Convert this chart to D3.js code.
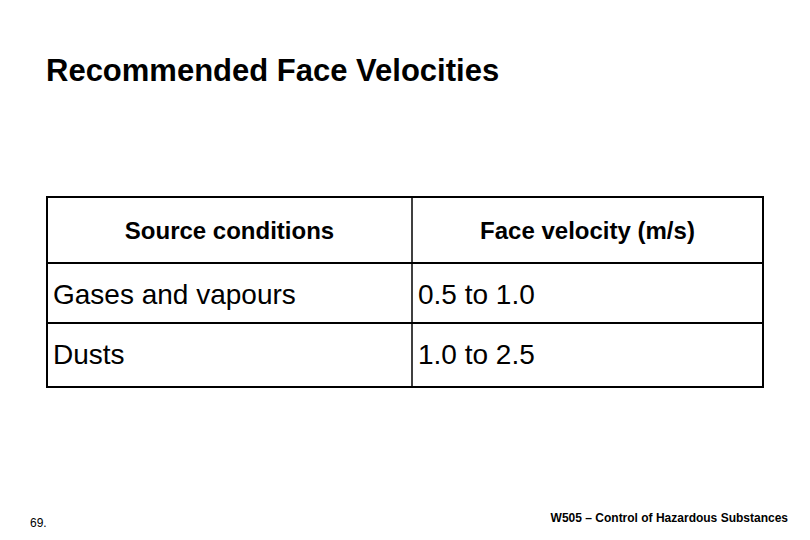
<!DOCTYPE html>
<html>
<head>
<meta charset="utf-8">
<script src="https://cdn.jsdelivr.net/npm/d3@7"></script>
<style>
  body { margin: 0; background: #fff; }
  text { font-family: "Liberation Sans", Arial, sans-serif; fill: #000; }
</style>
</head>
<body>
<svg id="slide" width="810" height="540"></svg>
<script>
const headers = ["Source conditions", "Face velocity (m/s)"];
const sources = ["Gases and vapours", "Dusts"];
const velocities = ["0.5 to 1.0", "1.0 to 2.5"];

const svg = d3.select("#slide");

svg.append("text")
    .attr("x", 46).attr("y", 81)
    .style("font-size", "31px")
    .style("font-weight", "bold")
    .text("Recommended Face Velocities");

// table geometry
const colX = d3.scaleOrdinal().domain([0, 1, 2]).range([47, 412, 763]);
const rowY = [197, 263, 323, 387];

const g = svg.append("g");

g.append("rect")
    .attr("x", colX(0)).attr("y", rowY[0])
    .attr("width", colX(2) - colX(0)).attr("height", rowY[3] - rowY[0])
    .attr("fill", "none").attr("stroke", "#000").attr("stroke-width", 2);

g.selectAll("line.row")
    .data(rowY.slice(1, 3))
    .enter().append("line")
    .attr("class", "row")
    .attr("x1", colX(0)).attr("x2", colX(2))
    .attr("y1", d => d).attr("y2", d => d)
    .attr("stroke", "#000").attr("stroke-width", 2);

g.append("line")
    .attr("x1", colX(1)).attr("x2", colX(1))
    .attr("y1", rowY[0]).attr("y2", rowY[3])
    .attr("stroke", "#000").attr("stroke-width", 1.5);

g.selectAll("text.head")
    .data(headers)
    .enter().append("text")
    .attr("class", "head")
    .attr("x", (d, i) => (colX(i) + colX(i + 1)) / 2)
    .attr("y", 239)
    .attr("text-anchor", "middle")
    .style("font-size", "24px")
    .style("font-weight", "bold")
    .text(d => d);

const rows = d3.zip(sources, velocities);
rows.forEach((r, ri) => {
    r.forEach((val, ci) => {
        g.append("text")
            .attr("x", colX(ci) + 6)
            .attr("y", rowY[ri + 1] + 41)
            .style("font-size", "28px")
            .attr("textLength", null)
            .text(val);
    });
});

svg.append("text")
    .attr("x", 30).attr("y", 527)
    .style("font-size", "12px")
    .text("69.");

svg.append("text")
    .attr("x", 788).attr("y", 522)
    .attr("text-anchor", "end")
    .style("font-size", "12px")
    .style("font-weight", "bold")
    .text("W505 – Control of Hazardous Substances");
</script>
</body>
</html>
